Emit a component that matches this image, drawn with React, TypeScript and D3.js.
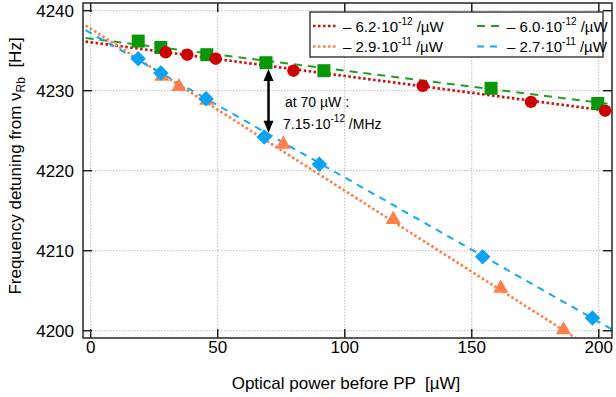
import * as d3 from 'd3';
import React, { useEffect, useRef } from 'react';

// measured points (optical power in µW, detuning in Hz)
const redX = [29.5, 38.0, 49.2, 79.8, 130.7, 173.3, 202.5];
const redY = [4234.8, 4234.5, 4234.0, 4232.5, 4230.6, 4228.6, 4227.5];
const greenX = [18.7, 27.6, 45.7, 69.0, 91.8, 157.6, 199.6];
const greenY = [4236.2, 4235.4, 4234.5, 4233.5, 4232.5, 4230.3, 4228.4];
const orangeX = [28.0, 34.7, 45.7, 75.8, 119.1, 161.4, 186.1];
const orangeY = [4231.8, 4230.5, 4228.8, 4223.3, 4213.9, 4205.3, 4200.1];
const blueX = [18.7, 27.6, 45.4, 68.3, 90.0, 154.3, 197.5];
const blueY = [4234.0, 4232.2, 4229.0, 4224.2, 4220.8, 4209.25, 4201.6];

// linear fits: [intercept, slope]
const redFit = [4236.05, -0.0421];
const greenFit = [4236.5, -0.0399];
const orangeFit = [4237.75, -0.2025];
const blueFit = [4237.2, -0.1805];

const legendLabels = ['6.2', '6.0', '2.9', '2.7'];
const legendExp = ['-12', '-12', '-11', '-11'];

const xTicks = [0, 50, 100, 150, 200];
const yTicks = [4200, 4210, 4220, 4230, 4240];

export default function App() {
  const ref = useRef<SVGSVGElement>(null);

  useEffect(() => {
    const svg = d3.select(ref.current);
    svg.selectAll('*').remove();
    const font = 'Liberation Sans, Arial, sans-serif';

    const left = 83, right = 612, top = 3, bottom = 338;
    const x = d3.scaleLinear().domain([-3.03, 205.2]).range([left, right]);
    const y = d3.scaleLinear().domain([4199.09, 4240.96]).range([bottom, top]);

    svg.append('rect').attr('width', 616).attr('height', 397).attr('fill', 'white');

    // grid
    const grid = svg.append('g');
    xTicks.forEach(t => {
      grid.append('line')
        .attr('x1', x(t)).attr('x2', x(t)).attr('y1', top).attr('y2', bottom)
        .attr('stroke', '#bbb').attr('stroke-width', 1).attr('stroke-dasharray', '1.5,1.5');
    });
    yTicks.forEach(t => {
      grid.append('line')
        .attr('x1', left).attr('x2', right).attr('y1', y(t)).attr('y2', y(t))
        .attr('stroke', '#bbb').attr('stroke-width', 1).attr('stroke-dasharray', '1.5,1.5');
    });

    const clip = svg.append('defs').append('clipPath').attr('id', 'plotclip');
    clip.append('rect').attr('x', left).attr('y', top).attr('width', right - left).attr('height', bottom - top);

    // fit lines
    const series = [
      { fit: redFit, color: '#d40d0d', dash: '2.5,2.5', w: 2.7 },
      { fit: greenFit, color: '#22a022', dash: '8,6', w: 2 },
      { fit: orangeFit, color: '#ff7f48', dash: '2.5,2.5', w: 2.7 },
      { fit: blueFit, color: '#12aaf2', dash: '7,6', w: 2 },
    ];
    const lines = svg.append('g').attr('clip-path', 'url(#plotclip)');
    series.forEach(s => {
      const xs = [-2, 205];
      lines.append('path')
        .attr('d', d3.line<number>().x(d => x(d)).y(d => y(s.fit[0] + s.fit[1] * d))(xs))
        .attr('fill', 'none')
        .attr('stroke', s.color)
        .attr('stroke-width', s.w)
        .attr('stroke-dasharray', s.dash);
    });

    // markers
    const tri = d3.symbol().type(d3.symbolTriangle).size(100);
    orangeX.forEach((v, i) => {
      svg.append('path').attr('d', tri()!)
        .attr('transform', `translate(${x(v)},${y(orangeY[i])})`)
        .attr('fill', '#ff7f48');
    });
    blueX.forEach((v, i) => {
      svg.append('rect')
        .attr('x', -5.5).attr('y', -5.5).attr('width', 11).attr('height', 11)
        .attr('transform', `translate(${x(v)},${y(blueY[i])}) rotate(45)`)
        .attr('fill', '#0aa2f5');
    });
    greenX.forEach((v, i) => {
      svg.append('rect')
        .attr('x', x(v) - 6.5).attr('y', y(greenY[i]) - 6.5)
        .attr('width', 13).attr('height', 13)
        .attr('fill', '#0a960a');
    });
    redX.forEach((v, i) => {
      svg.append('circle')
        .attr('cx', x(v)).attr('cy', y(redY[i])).attr('r', 6.2)
        .attr('fill', '#cc0000');
    });

    // frame and ticks
    svg.append('rect')
      .attr('x', left).attr('y', top).attr('width', right - left).attr('height', bottom - top)
      .attr('fill', 'none').attr('stroke', '#333').attr('stroke-width', 1.6);
    const tk = svg.append('g').attr('stroke', '#222').attr('stroke-width', 1.5);
    xTicks.forEach(t => {
      tk.append('line').attr('x1', x(t)).attr('x2', x(t)).attr('y1', bottom).attr('y2', bottom - 9);
      tk.append('line').attr('x1', x(t)).attr('x2', x(t)).attr('y1', top).attr('y2', top + 9);
      svg.append('text')
        .attr('x', x(t)).attr('y', 353)
        .attr('text-anchor', 'middle')
        .attr('font-family', font).style('font-size', '17px')
        .attr('fill', 'black')
        .text(t);
    });
    yTicks.forEach(t => {
      tk.append('line').attr('x1', left).attr('x2', left + 9).attr('y1', y(t)).attr('y2', y(t));
      tk.append('line').attr('x1', right).attr('x2', right - 9).attr('y1', y(t)).attr('y2', y(t));
      svg.append('text')
        .attr('x', 74).attr('y', y(t) + 6)
        .attr('text-anchor', 'end')
        .attr('font-family', font).style('font-size', '17px')
        .attr('fill', 'black')
        .text(t);
    });

    // axis labels
    svg.append('text')
      .attr('x', 346).attr('y', 389)
      .attr('text-anchor', 'middle')
      .attr('font-family', font).style('font-size', '17px')
      .attr('fill', 'black')
      .attr('xml:space', 'preserve')
      .text('Optical power before PP  [µW]');

    const yl = svg.append('text')
      .attr('text-anchor', 'middle')
      .attr('font-family', font).style('font-size', '17px')
      .attr('fill', 'black')
      .attr('xml:space', 'preserve')
      .attr('transform', 'translate(21,166) rotate(-90)');
    yl.append('tspan').text('Frequency detuning from ν');
    yl.append('tspan').attr('dy', 4).style('font-size', '12px').text('Rb');
    yl.append('tspan').attr('dy', -4).text('  [Hz]');

    // legend
    const lg = svg.append('g');
    lg.append('rect')
      .attr('x', 310).attr('y', 12).attr('width', 293).attr('height', 45)
      .attr('fill', 'white').attr('stroke', '#222').attr('stroke-width', 1.3);
    const slots = [[313, 26], [477, 26], [313, 46.5], [477, 46.5]];
    series.forEach((s, i) => {
      const [lx, ly] = slots[i];
      lg.append('line')
        .attr('x1', lx).attr('x2', lx + 24).attr('y1', ly).attr('y2', ly)
        .attr('stroke', s.color).attr('stroke-width', s.w).attr('stroke-dasharray', s.dash);
      const t = lg.append('text')
        .attr('x', lx + 30).attr('y', ly + 5.5)
        .attr('font-family', font).style('font-size', '15px')
        .attr('fill', 'black')
        .attr('xml:space', 'preserve');
      t.append('tspan').text(`– ${legendLabels[i]}·10`);
      t.append('tspan').attr('dy', -7).style('font-size', '10px').text(legendExp[i]);
      t.append('tspan').attr('dy', 7).text(' /µW');
    });

    // annotation arrow
    const ax = x(70);
    const y1 = y(4232.7), y2 = y(4224.75);
    svg.append('line')
      .attr('x1', ax).attr('x2', ax).attr('y1', y1 + 8).attr('y2', y2 - 8)
      .attr('stroke', 'black').attr('stroke-width', 2.5);
    svg.append('path')
      .attr('d', `M${ax},${y1} L${ax - 5},${y1 + 12} L${ax + 5},${y1 + 12} Z`)
      .attr('fill', 'black');
    svg.append('path')
      .attr('d', `M${ax},${y2} L${ax - 5},${y2 - 12} L${ax + 5},${y2 - 12} Z`)
      .attr('fill', 'black');

    svg.append('text')
      .attr('x', 285).attr('y', 107)
      .attr('font-family', font).style('font-size', '14px')
      .attr('fill', 'black')
      .text('at 70 µW :');
    const a2 = svg.append('text')
      .attr('x', 283).attr('y', 129)
      .attr('font-family', font).style('font-size', '14px')
      .attr('fill', 'black')
      .attr('xml:space', 'preserve');
    a2.append('tspan').text('7.15·10');
    a2.append('tspan').attr('dy', -7).style('font-size', '10px').text('-12');
    a2.append('tspan').attr('dy', 7).text(' /MHz');
  }, []);

  return (
    <svg
      ref={ref}
      width={616}
      height={397}
      style={{ position: 'absolute', left: 0, top: 0, display: 'block' }}
    />
  );
}
